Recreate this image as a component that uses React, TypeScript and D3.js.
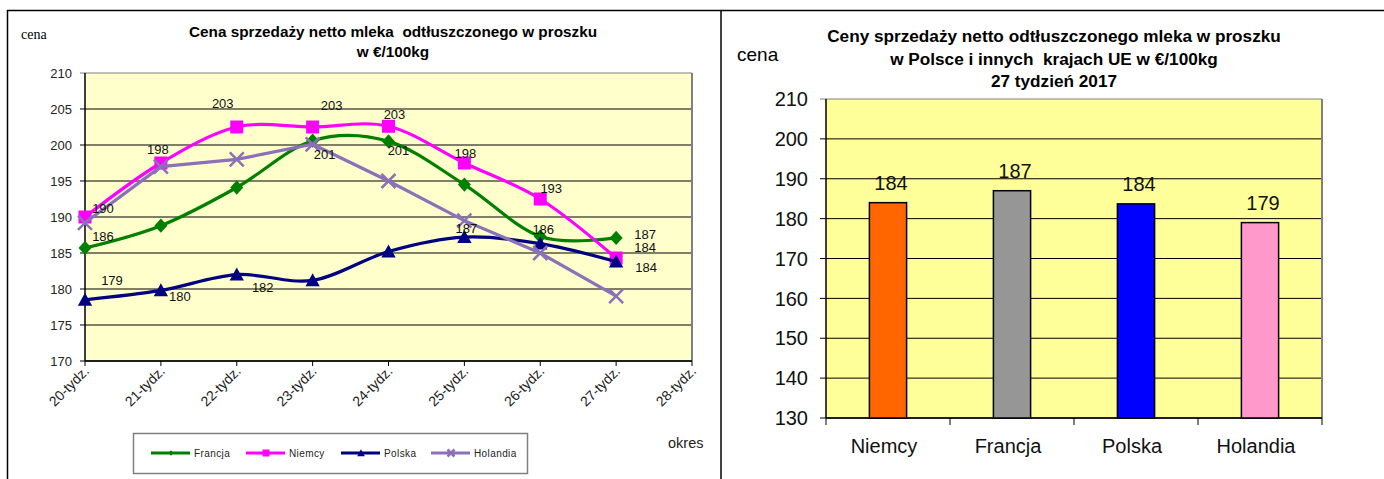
import * as d3 from 'd3';

// left chart: weekly prices
const weeks = ['20-tydz.', '21-tydz.', '22-tydz.', '23-tydz.', '24-tydz.', '25-tydz.', '26-tydz.', '27-tydz.', '28-tydz.'];
const francja = [185.7, 188.8, 194.1, 200.6, 200.5, 194.5, 187.3, 187.1];
const niemcy = [190, 197.5, 202.5, 202.5, 202.6, 197.5, 192.5, 184.3];
const polska = [178.5, 179.8, 182, 181.2, 185.2, 187.2, 186.3, 183.8];
const holandia = [189.2, 197, 198, 200.1, 195, 189.5, 185, 179];
const leftTicks = [170, 175, 180, 185, 190, 195, 200, 205, 210];

// right chart: week 27
const countries = ['Niemcy', 'Francja', 'Polska', 'Holandia'];
const week27 = [184, 187, 183.7, 179];
const rightTicks = [130, 140, 150, 160, 170, 180, 190, 200, 210];

const FONT = "'Liberation Sans', Arial, sans-serif";

type Marker = 'diamond' | 'square' | 'triangle' | 'x';

const series: { name: string; values: number[]; color: string; marker: Marker; smooth: boolean }[] = [
  { name: 'Francja', values: francja, color: '#008000', marker: 'diamond', smooth: true },
  { name: 'Niemcy', values: niemcy, color: '#ff00ff', marker: 'square', smooth: true },
  { name: 'Polska', values: polska, color: '#000080', marker: 'triangle', smooth: true },
  { name: 'Holandia', values: holandia, color: '#8c70b8', marker: 'x', smooth: false },
];

// label placement (center offset from point), like excel put them
const labelOffsets: Record<string, [number, number][]> = {
  Francja: [[18, -12], [NaN, 0], [NaN, 0], [12, 14], [10, 9], [NaN, 0], [NaN, 0], [29, -4]],
  Niemcy: [[18, -9], [-3, -14], [-14, -24], [19, -22], [6, -12], [1, -10], [11, -11], [29, -11]],
  Polska: [[27, -19], [19, 6], [26, 13], [NaN, 0], [NaN, 0], [2, -9], [3, -14], [30, 6]],
  Holandia: [],
};

const barColors = ['#ff6600', '#969696', '#0000ff', '#ff99cc'];

function markerShape(m: Marker, cx: number, cy: number, s: number, color: string, key?: string) {
  if (m === 'diamond') {
    return <path key={key} d={`M${cx},${cy - s * 1.1}L${cx + s},${cy}L${cx},${cy + s * 1.1}L${cx - s},${cy}Z`} fill={color} />;
  }
  if (m === 'square') {
    return <rect key={key} x={cx - s} y={cy - s} width={s * 2} height={s * 2} fill={color} />;
  }
  if (m === 'triangle') {
    return <path key={key} d={`M${cx},${cy - s * 1.1}L${cx + s * 1.1},${cy + s * 0.9}L${cx - s * 1.1},${cy + s * 0.9}Z`} fill={color} />;
  }
  return (
    <path key={key} d={`M${cx - s},${cy - s}L${cx + s},${cy + s}M${cx - s},${cy + s}L${cx + s},${cy - s}`}
      stroke={color} strokeWidth={2.5} fill="none" />
  );
}

const pre = { whiteSpace: 'pre' as const };

function LeftChart() {
  const x = d3.scalePoint<string>().domain(weeks).range([85, 692]);
  const y = d3.scaleLinear().domain([170, 210]).range([361, 73]);

  const lineFor = (s: typeof series[number]) =>
    d3.line<number>()
      .x((_, i) => x(weeks[i])!)
      .y((v) => y(v))
      .curve(s.smooth ? d3.curveCardinal.tension(0) : d3.curveLinear)(s.values) || undefined;

  const legendX = [151, 246, 341, 431];

  return (
    <g fontFamily={FONT}>
      <text x={21} y={39} fontFamily="'Liberation Serif', 'Times New Roman', serif" fontSize={14}>cena</text>
      <text x={393} y={37} textAnchor="middle" fontWeight="bold" fontSize={15.3} style={pre}>
        {'Cena sprzedaży netto mleka  odtłuszczonego w proszku'}
      </text>
      <text x={393} y={57} textAnchor="middle" fontWeight="bold" fontSize={15.3}>w €/100kg</text>

      <rect x={85} y={73} width={607} height={288} fill="#ffffcc" />
      {leftTicks.map((t) => (
        <g key={t}>
          <line x1={80} x2={692} y1={y(t)} y2={y(t)} stroke={t === 210 ? '#808080' : '#000'} strokeWidth={1} />
          <text x={72} y={y(t)} dy="0.36em" textAnchor="end" fontSize={13} fill="#222">{t}</text>
        </g>
      ))}
      <line x1={692} x2={692} y1={73} y2={361} stroke="#808080" strokeWidth={2} />
      <line x1={85} x2={85} y1={73} y2={361} stroke="#000" strokeWidth={1.5} />
      <line x1={85} x2={692} y1={361} y2={361} stroke="#000" strokeWidth={1.5} />
      {weeks.map((w) => (
        <g key={w}>
          <line x1={x(w)} x2={x(w)} y1={361} y2={366} stroke="#000" />
          <text transform={`translate(${x(w)! + 5},${372}) rotate(-45)`} textAnchor="end" fontSize={14} fill="#222">{w}</text>
        </g>
      ))}

      {series.map((s) => (
        <g key={s.name}>
          <path d={lineFor(s)} fill="none" stroke={s.color} strokeWidth={3.2} />
          {s.values.map((v, i) => markerShape(s.marker, x(weeks[i])!, y(v), s.marker === 'x' ? 7 : 6.5, s.color, `${s.name}${i}`))}
        </g>
      ))}
      {series.map((s) =>
        s.values.map((v, i) => {
          const off = labelOffsets[s.name][i];
          if (!off || isNaN(off[0])) return null;
          return (
            <text key={`${s.name}l${i}`} x={x(weeks[i])! + off[0]} y={y(v) + off[1]} dy="0.36em"
              textAnchor="middle" fontSize={13} fill="#111">
              {Math.round(v)}
            </text>
          );
        })
      )}

      <rect x={133.5} y={433.5} width={394} height={40} fill="#fff" stroke="#808080" strokeWidth={1.5} />
      {series.map((s, i) => (
        <g key={s.name}>
          <line x1={legendX[i]} x2={legendX[i] + 39} y1={453} y2={453} stroke={s.color} strokeWidth={3} />
          {markerShape(s.marker, legendX[i] + 20, 453, s.marker === 'diamond' ? 2.5 : 3.5, s.color)}
          <text x={legendX[i] + 43} y={453} dy="0.36em" fontSize={10} letterSpacing={0.4} fill="#222">{s.name}</text>
        </g>
      ))}

      <text x={668} y={448} fontSize={14.5} fill="#222">okres</text>
    </g>
  );
}

function RightChart() {
  const x = d3.scaleBand<string>().domain(countries).range([826, 1322]);
  const y = d3.scaleLinear().domain([130, 210]).range([418, 99]);
  const bw = x.bandwidth() * 0.3;

  return (
    <g fontFamily={FONT}>
      <text x={737} y={61} fontSize={19}>cena</text>
      <text x={1054} y={42} textAnchor="middle" fontWeight="bold" fontSize={17.2}>
        Ceny sprzedaży netto odtłuszczonego mleka w proszku
      </text>
      <text x={1054} y={65} textAnchor="middle" fontWeight="bold" fontSize={17.2} style={pre}>
        {'w Polsce i innych  krajach UE w €/100kg'}
      </text>
      <text x={1054} y={87} textAnchor="middle" fontWeight="bold" fontSize={17.2}>27 tydzień 2017</text>

      <rect x={826} y={99} width={496} height={319} fill="#ffff99" />
      {rightTicks.map((t) => (
        <g key={t}>
          <line x1={820} x2={1322} y1={y(t)} y2={y(t)} stroke={t === 210 ? '#808080' : '#000'} strokeWidth={1} />
          <text x={808} y={y(t)} dy="0.36em" textAnchor="end" fontSize={20} fill="#111">{t}</text>
        </g>
      ))}
      <line x1={1322} x2={1322} y1={99} y2={418} stroke="#808080" strokeWidth={2} />
      <line x1={826} x2={826} y1={99} y2={418} stroke="#000" strokeWidth={1.5} />
      <line x1={826} x2={1322} y1={418} y2={418} stroke="#000" strokeWidth={1.5} />
      {[...countries.map((c) => x(c)!), 1322].map((tx, i) => (
        <line key={i} x1={tx} x2={tx} y1={418} y2={425} stroke="#000" />
      ))}

      {countries.map((c, i) => {
        const cx = x(c)! + x.bandwidth() / 2;
        return (
          <g key={c}>
            <rect x={cx - bw / 2} y={y(week27[i])} width={bw} height={418 - y(week27[i])}
              fill={barColors[i]} stroke="#000" strokeWidth={1.5} />
            <text x={cx + 3} y={y(week27[i]) - 13} textAnchor="middle" fontSize={20} fill="#111">
              {Math.round(week27[i])}
            </text>
            <text x={cx - 4} y={453} textAnchor="middle" fontSize={20} fill="#111">{c}</text>
          </g>
        );
      })}
    </g>
  );
}

export default function App() {
  return (
    <svg width={1384} height={479} style={{ position: 'absolute', left: 0, top: 0, background: '#fff' }}>
      <line x1={7} x2={1384} y1={10.5} y2={10.5} stroke="#000" strokeWidth={1.5} />
      <line x1={7.5} x2={7.5} y1={10} y2={479} stroke="#000" strokeWidth={1.5} />
      <line x1={721} x2={721} y1={10} y2={479} stroke="#000" strokeWidth={1.5} />
      <LeftChart />
      <RightChart />
    </svg>
  );
}
